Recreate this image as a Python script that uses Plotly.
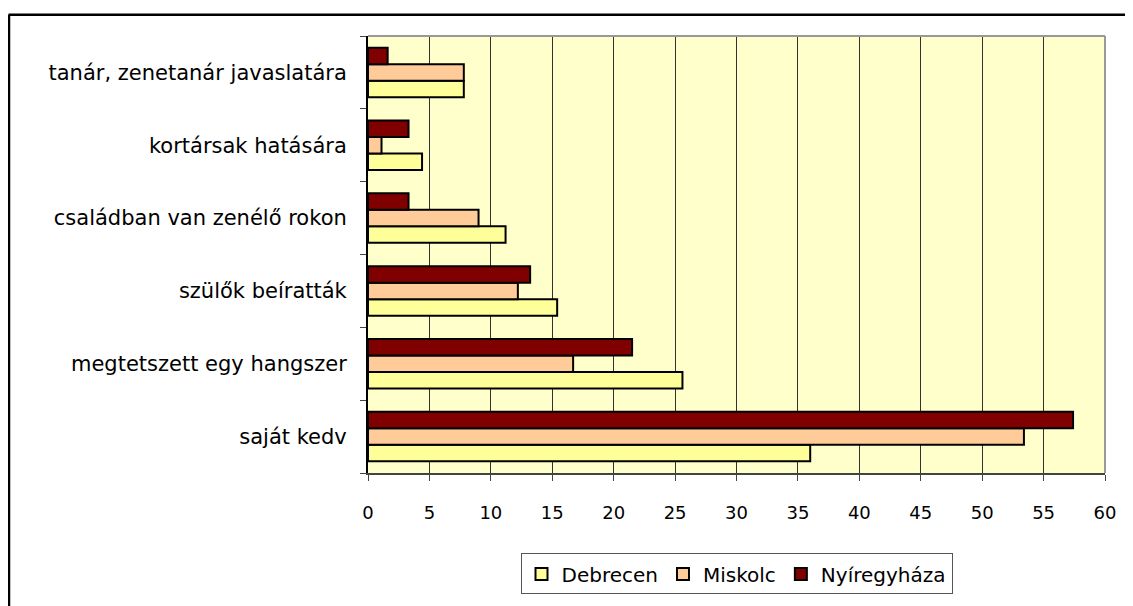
import plotly.graph_objects as go

categories = [
    "saját kedv",
    "megtetszett egy hangszer",
    "szülők beíratták",
    "családban van zenélő rokon",
    "kortársak hatására",
    "tanár, zenetanár javaslatára",
]
debrecen = [36.0, 25.6, 15.4, 11.2, 4.4, 7.8]
miskolc = [53.4, 16.7, 12.2, 9.0, 1.1, 7.8]
nyiregyhaza = [57.4, 21.5, 13.2, 3.3, 3.3, 1.6]
x_ticks = list(range(0, 61, 5))

series = [
    ("Debrecen", debrecen, "#FFFF99"),
    ("Miskolc", miskolc, "#FFCC99"),
    ("Nyíregyháza", nyiregyhaza, "#800000"),
]

fig = go.Figure()
for name, vals, color in series:
    fig.add_trace(go.Bar(
        y=categories, x=vals, name=name, orientation="h",
        marker=dict(color=color, line=dict(color="black", width=2)),
    ))

font = "DejaVu Sans"
OFF = 8  # page body margin
L, R, T, B = 368 - OFF, 1105 - OFF, 36 - OFF, 476 - OFF
W, H = 1133 - OFF, 606 - OFF

def px(xp):
    return (xp - OFF - L) / (R - L)

def py(yp):
    return (B - (yp - OFF)) / (B - T)

fig.update_layout(
    width=W, height=H,
    margin=dict(l=L, r=W - R, t=T, b=H - B, pad=0),
    paper_bgcolor="white",
    plot_bgcolor="#FFFFCC",
    barmode="group",
    bargap=0.32,
    bargroupgap=0,
    font=dict(family=font, size=18, color="black"),
    showlegend=True,
    legend=dict(
        orientation="h", x=0.5, xanchor="center", y=py(557), yanchor="top",
        bordercolor="#555555", borderwidth=1, bgcolor="white",
        font=dict(family=font, size=20, color="black"),
        itemwidth=30, traceorder="normal",
    ),
    xaxis=dict(
        range=[0, 60], tickvals=x_ticks, ticktext=[str(v) for v in x_ticks],
        tickfont=dict(family=font, size=18),
        showgrid=True, gridcolor="#333333", gridwidth=1,
        showline=True, linecolor="#444444", linewidth=2,
        ticks="outside", ticklen=6, tickcolor="#444444",
        ticklabelstandoff=16, zeroline=False,
    ),
    yaxis=dict(
        type="category", categoryorder="array", categoryarray=categories,
        tickfont=dict(family=font, size=21),
        showline=True, linecolor="black", linewidth=2,
        ticks="outside", ticklen=6, tickcolor="#444444", tickson="boundaries",
        ticklabelstandoff=15, showgrid=False,
    ),
    shapes=[
        dict(type="line", xref="paper", yref="paper", x0=0, x1=1, y0=1, y1=1,
             line=dict(color="#999999", width=2)),
        dict(type="line", xref="paper", yref="paper", x0=1, x1=1, y0=0, y1=1,
             line=dict(color="#999999", width=2)),
        dict(type="line", xref="paper", yref="paper", x0=px(8.5), x1=px(1140),
             y0=py(14.5), y1=py(14.5), line=dict(color="black", width=2.5)),
        dict(type="line", xref="paper", yref="paper", x0=px(9), x1=px(9),
             y0=py(14.5), y1=py(620), line=dict(color="black", width=2.5)),
    ],
)

fig.write_html("out.html")
